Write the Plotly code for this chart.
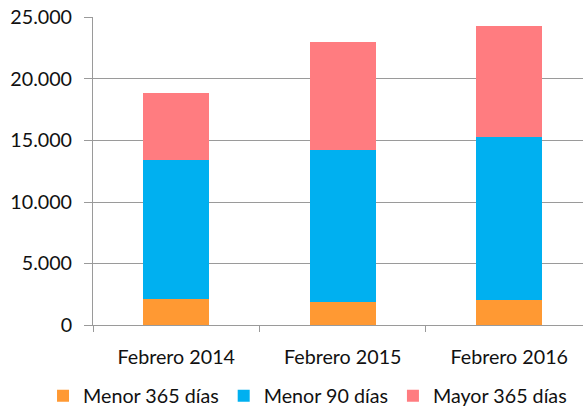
import plotly.graph_objects as go

categories = ["Febrero 2014", "Febrero 2015", "Febrero 2016"]
menor_365 = [2150, 1900, 2050]
menor_90 = [11250, 12300, 13200]
mayor_365 = [5500, 8800, 9050]
series_names = ["Menor 365 días", "Menor 90 días", "Mayor 365 días"]
y_tickvals = [0, 5000, 10000, 15000, 20000, 25000]
y_ticktext = ["0", "5.000", "10.000", "15.000", "20.000", "25.000"]

colors = ["#FF9933", "#00B0F0", "#FF7C80"]
FONT = "Lato"
FS = 19.7
GRID = "#9a9a9a"

fig = go.Figure()
for name, vals, c in zip(series_names, [menor_365, menor_90, mayor_365], colors):
    fig.add_trace(go.Bar(x=categories, y=vals, name=name, marker=dict(color=c, line=dict(width=0)),
                         width=0.395))

fig.update_layout(
    barmode="stack",
    width=583, height=408,
    margin=dict(l=93, r=0, t=17, b=83, autoexpand=False),
    paper_bgcolor="white", plot_bgcolor="white",
    font=dict(family=FONT, size=FS, color="#111111"),
    showlegend=True,
    legend=dict(orientation="h", x=-0.102, xanchor="left", y=-0.2305, yanchor="middle",
                font=dict(family=FONT, size=FS, color="#111111"), traceorder="normal"),
    xaxis=dict(range=[-0.5, 2.443], showline=True, linecolor=GRID, linewidth=1,
               ticks="outside", tickson="boundaries", ticklen=6, tickcolor=GRID,
               showgrid=False, ticklabelstandoff=14, automargin=False),
    yaxis=dict(range=[0, 25040], tickvals=y_tickvals, ticktext=y_ticktext,
               showline=True, linecolor=GRID, linewidth=1, showgrid=True, gridcolor=GRID,
               gridwidth=1, ticks="outside", ticklen=8, tickcolor=GRID, zeroline=False,
               ticklabelstandoff=8, automargin=False, ticklabeloverflow="allow"),
)
fig.write_html("out.html", config={"displayModeBar": False},
               post_script="document.body.style.margin='0';")
